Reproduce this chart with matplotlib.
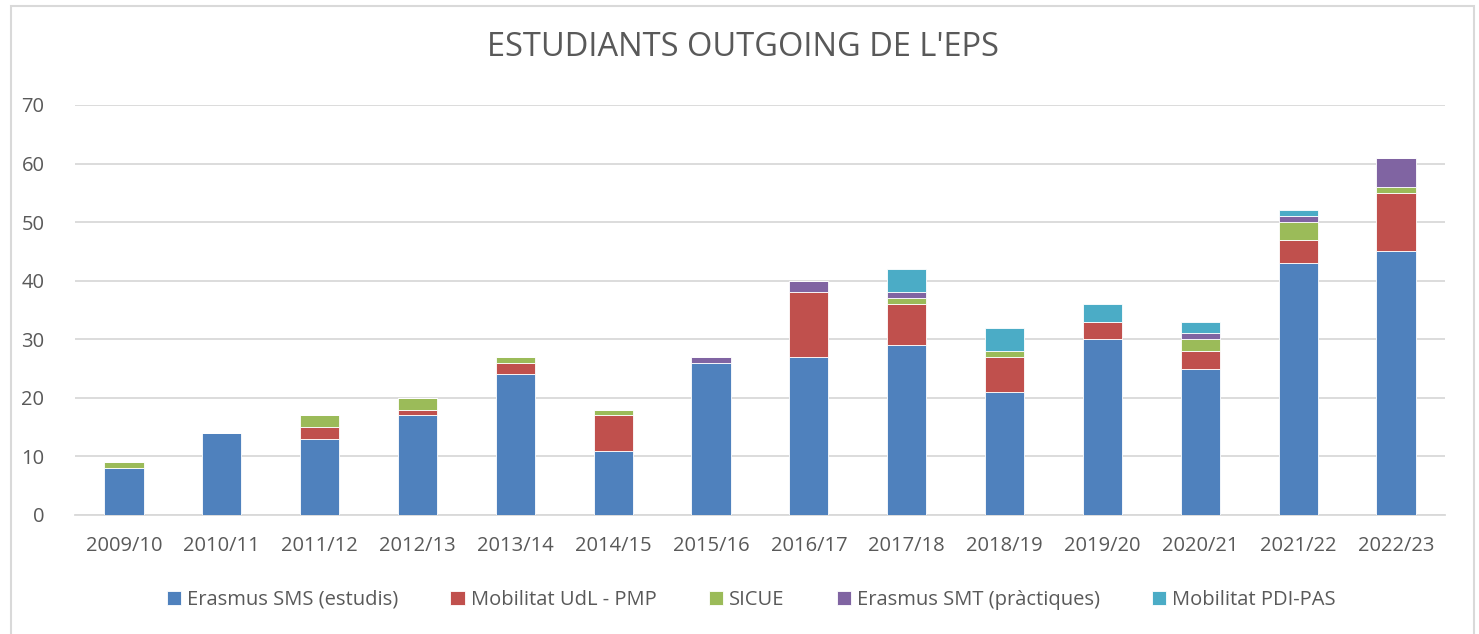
import numpy as np
import matplotlib
matplotlib.use("Agg")
import matplotlib.pyplot as plt
from matplotlib.patches import Rectangle

years = ["2009/10", "2010/11", "2011/12", "2012/13", "2013/14", "2014/15", "2015/16",
         "2016/17", "2017/18", "2018/19", "2019/20", "2020/21", "2021/22", "2022/23"]
erasmus_sms = [8, 14, 13, 17, 24, 11, 26, 27, 29, 21, 30, 25, 43, 45]
mobilitat_pmp = [0, 0, 2, 1, 2, 6, 0, 11, 7, 6, 3, 3, 4, 10]
sicue = [1, 0, 2, 2, 1, 1, 0, 0, 1, 1, 0, 2, 3, 1]
erasmus_smt = [0, 0, 0, 0, 0, 0, 1, 2, 1, 0, 0, 1, 1, 5]
mobilitat_pdi = [0, 0, 0, 0, 0, 0, 0, 0, 4, 4, 3, 2, 1, 0]

series_names = ["Erasmus SMS (estudis)", "Mobilitat UdL - PMP", "SICUE",
                "Erasmus SMT (pràctiques)", "Mobilitat PDI-PAS"]
colors = ["#4F81BD", "#C0504D", "#9BBB59", "#8064A2", "#4BACC6"]

plt.rcParams['font.family'] = ['Open Sans', 'DejaVu Sans']
text_color = "#595959"

fig = plt.figure(figsize=(14.79, 6.34), dpi=100)
ax = fig.add_axes([75 / 1479, 1 - 515 / 634, (1445 - 75) / 1479, (515 - 105) / 634])

x = np.arange(len(years))
bottom = np.zeros(len(years))
for name, vals, c in zip(series_names,
                         [erasmus_sms, mobilitat_pmp, sicue, erasmus_smt, mobilitat_pdi],
                         colors):
    vals = np.array(vals, dtype=float)
    ax.bar(x, vals, width=0.4, bottom=bottom, color=c, label=name,
           edgecolor="white", linewidth=0.6, zorder=3)
    bottom += vals

ax.set_xlim(-0.5, len(years) - 0.5)
ax.set_ylim(0, 70)
ax.set_yticks(range(0, 71, 10))
ax.set_xticks(x)
ax.set_xticklabels(years)
ax.grid(axis="y", color="#D9D9D9", linewidth=1.3, zorder=0)
for s in ["top", "right", "left"]:
    ax.spines[s].set_visible(False)
ax.spines["bottom"].set_color("#D9D9D9")
ax.spines["bottom"].set_linewidth(1.3)
ax.tick_params(axis="both", length=0, labelsize=14.5, colors=text_color)
ax.tick_params(axis="x", pad=15)
ax.tick_params(axis="y", pad=22)

fig.text(0.5025, 1 - 48 / 634, "ESTUDIANTS OUTGOING DE L'EPS", ha="center", va="center",
         fontsize=23.5, color=text_color)

handles, labels = ax.get_legend_handles_labels()
leg = fig.legend(handles, labels, loc="center", bbox_to_anchor=(0.508, 1 - 600 / 634),
                 ncol=5, frameon=False, fontsize=14.5, handlelength=0.7, handleheight=0.7,
                 handletextpad=0.3, columnspacing=2.6, labelcolor=text_color)

fig.patches.append(Rectangle((11 / 1479, -0.01), (1474 - 11) / 1479, 1 - 6 / 634 + 0.01,
                             transform=fig.transFigure, fill=False,
                             edgecolor="#D9D9D9", linewidth=1.5))

fig.savefig("out.png", dpi=100)
